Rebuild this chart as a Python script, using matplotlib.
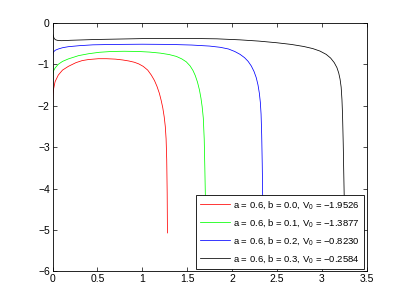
import matplotlib
matplotlib.use("Agg")
import matplotlib.pyplot as plt

plt.rcParams["font.family"] = ["Liberation Sans", "DejaVu Sans"]
plt.rcParams["mathtext.fontset"] = "custom"
plt.rcParams["mathtext.rm"] = "Liberation Sans"
plt.rcParams["mathtext.it"] = "Liberation Sans"

# curve samples
x_b00 = [0.0, 0.003, 0.01, 0.027, 0.063, 0.11, 0.175, 0.26, 0.33, 0.40, 0.51, 0.60, 0.70, 0.78, 0.85,
         0.91, 0.96, 1.01, 1.06, 1.10, 1.135, 1.163, 1.19, 1.21, 1.228, 1.244, 1.256, 1.265, 1.272, 1.277, 1.28]
y_b00 = [-1.95, -1.75, -1.6, -1.42, -1.26, -1.14, -1.05, -0.96, -0.91, -0.885, -0.865, -0.865, -0.875, -0.895, -0.92,
         -0.95, -0.99, -1.05, -1.14, -1.26, -1.39, -1.53, -1.70, -1.87, -2.05, -2.27, -2.5, -2.8, -3.3, -4.1, -5.07]

x_b01 = [0.0, 0.003, 0.01, 0.027, 0.063, 0.11, 0.175, 0.29, 0.40, 0.52, 0.66, 0.80, 0.95, 1.08, 1.2, 1.30,
         1.38, 1.44, 1.49, 1.533, 1.565, 1.59, 1.615, 1.637, 1.654, 1.667, 1.68, 1.69, 1.697, 1.703, 1.71]
y_b01 = [-1.39, -1.24, -1.16, -1.09, -1.0, -0.93, -0.87, -0.79, -0.745, -0.71, -0.69, -0.685, -0.69, -0.705, -0.73, -0.765,
         -0.81, -0.87, -0.94, -1.04, -1.15, -1.27, -1.43, -1.62, -1.82, -2.02, -2.3, -2.8, -3.5, -4.2, -5.5]

x_b02 = [0.0, 0.003, 0.01, 0.03, 0.063, 0.11, 0.175, 0.3, 0.45, 0.7, 1.0, 1.3, 1.55, 1.75, 1.87, 1.96,
         2.03, 2.09, 2.14, 2.18, 2.215, 2.245, 2.27, 2.29, 2.305, 2.316, 2.324, 2.331, 2.337, 2.342, 2.35]
y_b02 = [-0.82, -0.74, -0.70, -0.66, -0.63, -0.60, -0.575, -0.55, -0.53, -0.52, -0.515, -0.52, -0.535, -0.56, -0.59, -0.63,
         -0.69, -0.76, -0.84, -0.93, -1.04, -1.17, -1.32, -1.5, -1.7, -1.92, -2.2, -2.7, -3.4, -4.2, -5.5]

x_b03 = [0.0, 0.005, 0.012, 0.02, 0.035, 0.06, 0.1, 0.2, 0.5, 1.0, 1.5, 1.83, 2.09, 2.3, 2.5, 2.66, 2.80,
         2.90, 2.98, 3.05, 3.10, 3.14, 3.17, 3.19, 3.205, 3.217, 3.226, 3.233, 3.24, 3.246, 3.252, 3.26]
y_b03 = [-0.26, -0.30, -0.35, -0.385, -0.41, -0.425, -0.43, -0.42, -0.40, -0.38, -0.375, -0.385, -0.41, -0.44, -0.48, -0.52, -0.57,
         -0.62, -0.68, -0.76, -0.85, -0.96, -1.08, -1.21, -1.36, -1.55, -1.85, -2.25, -2.9, -3.6, -4.3, -5.5]

labels = [
    r"a = 0.6, b = 0.0, V$_0$ = −1.9526",
    r"a = 0.6, b = 0.1, V$_0$ = −1.3877",
    r"a = 0.6, b = 0.2, V$_0$ = −0.8230",
    r"a = 0.6, b = 0.3, V$_0$ = −0.2584",
]
colors = ["#ff0000", "#00ff00", "#0000ff", "#000000"]

fig = plt.figure(figsize=(4.05, 3.05), dpi=100)
ax = fig.add_axes([0.13, 0.11, 0.775, 0.815])

for xs, ys, c, lab in zip([x_b00, x_b01, x_b02, x_b03], [y_b00, y_b01, y_b02, y_b03], colors, labels):
    ax.plot(xs, ys, color=c, linewidth=0.55, label=lab)

ax.set_xlim(0, 3.5)
ax.set_ylim(-6, 0)
ax.set_xticks([0, 0.5, 1, 1.5, 2, 2.5, 3, 3.5])
ax.set_xticklabels(["0", "0.5", "1", "1.5", "2", "2.5", "3", "3.5"])
ax.set_yticks([-6, -5, -4, -3, -2, -1, 0])
ax.tick_params(direction="in", length=3, width=0.5, labelsize=7.5, top=True, right=True, pad=2)
for s in ax.spines.values():
    s.set_linewidth(0.6)

leg = ax.legend(loc="lower right", fontsize=6.8, fancybox=False, framealpha=1,
                edgecolor="black", handlelength=3.2, borderaxespad=0.3,
                labelspacing=0.62, borderpad=0.4, handletextpad=0.35)
leg.get_frame().set_linewidth(0.6)

fig.savefig("out.png", dpi=100)
